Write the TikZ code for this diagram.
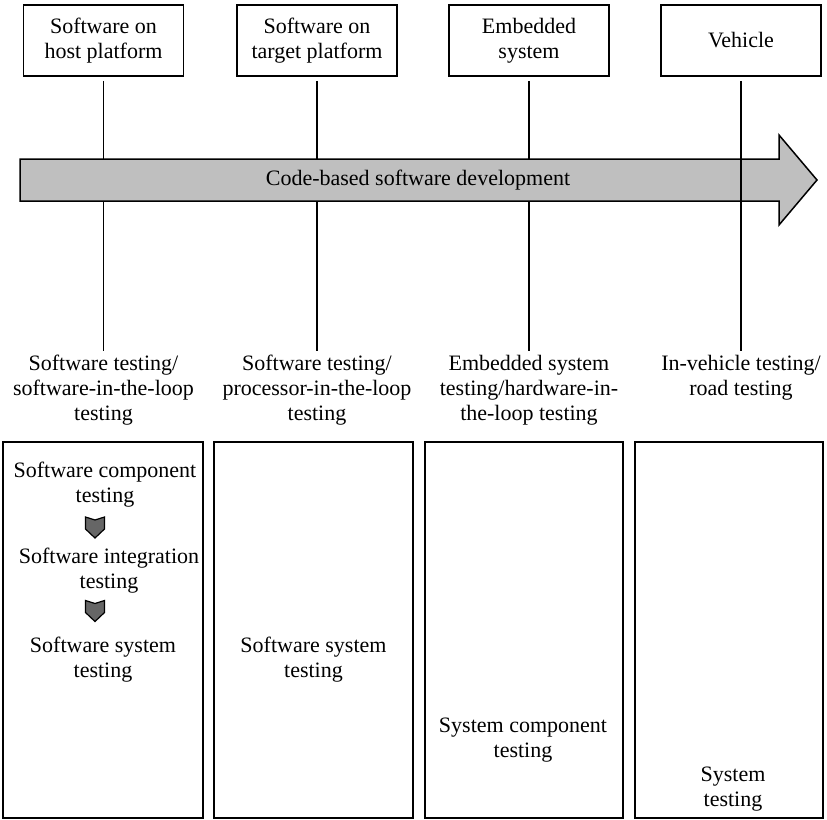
\documentclass[tikz,border=0pt]{standalone}
\usepackage{fontspec}
\setmainfont{Liberation Serif}
\usepackage{tikz}
\usetikzlibrary{positioning}

\begin{document}
\begin{tikzpicture}[x=0.5pt,y=0.5pt,
  font=\fontsize{11}{12.5}\selectfont,
  lw/.style={line width=0.75pt},
  plat/.style={draw,lw,align=center,minimum width=80pt,minimum height=35.5pt,inner sep=0pt},
  lbl/.style={align=center,inner sep=2pt},
  col/.style={draw,lw,inner sep=0pt,minimum width=99.5pt,minimum height=188pt},
  txt/.style={align=center,inner sep=0pt},
  tick/.style={lw,shorten <=2pt},
  chev/.pic={\draw[line width=0.6pt,fill=black!60] (-9.5,10.5) -- (0,7.5) -- (9.5,10.5) -- (9.5,-1.5) -- (0,-10.5) -- (-9.5,-1.5) -- cycle;}]
\useasboundingbox (0,0) rectangle (827,-820);
\node[plat] (host) at (103.5,-40.5) {Software on\\host platform};
\node[plat] (target) at (317,-40.5) {Software on\\target platform};
\node[plat] (ecu) at (529,-40.5) {Embedded\\system};
\node[plat] (veh) at (741,-40.5) {Vehicle};
\node[lbl,below=137pt of host] (sil) {Software testing/\\software-in-the-loop\\testing};
\node[lbl,below=137pt of target] (pil) {Software testing/\\processor-in-the-loop\\testing};
\node[lbl,below=137pt of ecu] (hil) {Embedded system\\testing/hardware-in-\\the-loop testing};
\node[lbl,below=137pt of veh] (road) {In-vehicle testing/\\road testing};
\draw[tick] (host)--(sil); \draw[tick] (target)--(pil); \draw[tick] (ecu)--(hil);
\draw[lw,fill=black!25] (20,-159) -- (779,-159) -- (779,-135) -- (817,-180) -- (779,-225) -- (779,-201) -- (20,-201) -- cycle;
\node (dev) at (418,-180) {Code-based software development};
\draw[tick] (veh)--(road);
\node[col,minimum width=100pt] (colA) at (103,-630) {};
\node[col] (colB) at (313.5,-630) {};
\node[col,minimum width=99pt] (colC) at (524,-630) {};
\node[col,minimum width=94pt] (colD) at (729,-630) {};
\node[txt] (swc) at (105,-484.5) {Software component\\testing};
\pic (chevA) at (95,-527.5) {chev};
\node[txt] (swi) at (109,-570.5) {Software integration\\testing};
\pic (chevB) at (95,-611) {chev};
\node[txt] (sws) at (103,-659.5) {Software system\\testing};
\node[txt] (swsB) at (313.5,-659.5) {Software system\\testing};
\node[txt] (scomp) at (523,-740.5) {System component\\testing};
\node[txt] (sys) at (733,-789.5) {System\\testing};
\end{tikzpicture}
\end{document}
